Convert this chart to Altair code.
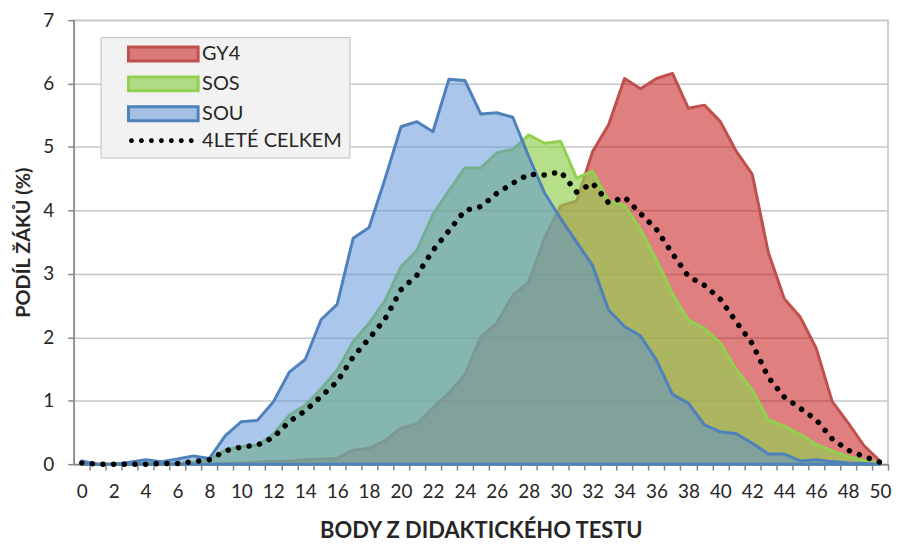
import math
import altair as alt
import pandas as pd

# ---- data ----
scores = list(range(51))
gy4 = [0, 0, 0, 0, 0, 0, 0, 0, 0,
       0.01, 0.02, 0.03, 0.04, 0.05, 0.07, 0.08, 0.09,
       0.22, 0.25, 0.37, 0.57, 0.63, 0.89, 1.12, 1.41, 2.01, 2.22, 2.66, 2.87,
       3.57, 4.07, 4.15, 4.93, 5.35, 6.08, 5.92, 6.08, 6.16, 5.61, 5.66, 5.40,
       4.93, 4.57, 3.34, 2.61, 2.32, 1.83, 0.99, 0.65, 0.29, 0.05]
sos = [0.01, 0, 0, 0, 0.01, 0.01, 0.01, 0.03, 0.07,
       0.22, 0.28, 0.30, 0.47, 0.77, 0.93, 1.19, 1.48, 1.93, 2.22, 2.58, 3.11,
       3.37, 3.94, 4.31, 4.67, 4.67, 4.91, 4.96, 5.19, 5.06, 5.09, 4.51, 4.62,
       4.15, 4.08, 3.70, 3.22, 2.69, 2.27, 2.14, 1.91, 1.49, 1.17, 0.70, 0.60,
       0.47, 0.31, 0.21, 0.12, 0.06, 0.01]
sou = [0.05, 0.0, 0.0, 0.03, 0.07, 0.04, 0.08, 0.13, 0.09, 0.45,
       0.67, 0.69, 0.98, 1.45, 1.65, 2.28, 2.52, 3.56, 3.73, 4.50, 5.32,
       5.40, 5.24, 6.07, 6.05, 5.52, 5.54, 5.47, 4.85, 4.27, 3.87, 3.50,
       3.13, 2.43, 2.17, 2.02, 1.64, 1.10, 0.96, 0.62, 0.51, 0.48, 0.33,
       0.16, 0.16, 0.05, 0.07, 0.04, 0.02, 0.01, 0.0]
total = [0.02, 0.0, 0.0, 0.0, 0.0, 0.01, 0.01, 0.04, 0.07,
         0.21, 0.27, 0.30, 0.42, 0.67, 0.84, 1.07, 1.30, 1.69, 1.98,
         2.29, 2.75, 2.98, 3.37, 3.68, 4.00, 4.06, 4.27, 4.43, 4.57,
         4.56, 4.61, 4.29, 4.43, 4.12, 4.21, 3.95, 3.70, 3.32, 2.96,
         2.82, 2.60, 2.24, 1.90, 1.37, 1.06, 0.88, 0.70, 0.40, 0.22,
         0.12, 0.03]

series_names = ["GY4", "SOS", "SOU", "4LETÉ CELKEM"]
y_ticks = list(range(8))

# ---- styles ----
fill_range = ["rgba(192,0,0,0.5)", "rgba(146,208,80,0.67)", "rgba(85,142,213,0.5)", "#000000"]
stroke_range = ["#c0504d", "#92d050", "#4f81bd", "rgba(0,0,0,0)"]

# legend symbol shapes (units of 7 px): wide swatch and a row of dots
swatch = "M-1,-1H9V1H-1Z"
def dot(cx, r=0.37):
    pts = [(cx + r * math.cos(math.radians(22.5 + 45 * k)), r * math.sin(math.radians(22.5 + 45 * k))) for k in range(8)]
    return "M" + "L".join(f"{x:.3f},{y:.3f}" for x, y in pts) + "Z"
dots_path = "".join(dot(-0.57 + 1.43 * k) for k in range(7))
shape_range = [swatch, swatch, swatch, dots_path]

rows = []
for name, vals in zip(series_names, [gy4, sos, sou, total]):
    for s, v in zip(scores, vals):
        rows.append({"body": s, "podil": v, "skupina": name})
df = pd.DataFrame(rows)

FONT = "Lato"
TXT = "#262626"

x_enc = alt.X("body:Q",
              scale=alt.Scale(domain=[-0.5, 50.5], nice=False, zero=False),
              axis=alt.Axis(values=scores, title="BODY Z DIDAKTICKÉHO TESTU",
                            labelExpr="datum.value % 2 == 0 ? datum.label : ''",
                            tickOffset=8.02, labelOffset=-8.02, labelFlush=False,
                            labelOverlap=False, grid=False, labelPadding=12,
                            titlePadding=20, titleFontSize=22))
y_enc = alt.Y("podil:Q", stack=None,
              scale=alt.Scale(domain=[0, 7], nice=False, zero=True),
              axis=alt.Axis(values=y_ticks, title="PODÍL ŽÁKŮ (%)", grid=True,
                            labelPadding=14, titlePadding=9, titleFontSize=20))

fill_scale = alt.Scale(domain=series_names, range=fill_range)
stroke_scale = alt.Scale(domain=series_names, range=stroke_range)
shape_scale = alt.Scale(domain=series_names, range=shape_range)

def legend():
    return alt.Legend(title=None,
                      labelExpr="datum.label + '\u00a0\u00a0\u00a0\u00a0\u00a0'")

base = alt.Chart(df)

def area_layer(name):
    return base.transform_filter(alt.datum.skupina == name).mark_area(
        opacity=1, fillOpacity=1, strokeWidth=3, strokeJoin="round"
    ).encode(
        x=x_enc, y=y_enc,
        fill=alt.Fill("skupina:N", scale=fill_scale, legend=legend()),
        stroke=alt.Stroke("skupina:N", scale=stroke_scale, legend=legend()),
    )

line_total = base.transform_filter(alt.datum.skupina == "4LETÉ CELKEM").mark_line(
    color="black", strokeWidth=5.5, strokeDash=[0.1, 10.6], strokeCap="round"
).encode(x=x_enc, y=y_enc)

legend_points = base.mark_point(opacity=0, filled=True).encode(
    x=x_enc, y=y_enc,
    shape=alt.Shape("skupina:N", scale=shape_scale, legend=legend()),
)

chart = alt.layer(
    area_layer("GY4"), area_layer("SOS"), area_layer("SOU"), line_total, legend_points
).properties(
    width=818, height=446,
    padding={"left": 66, "top": 11, "right": 4, "bottom": 80},
    autosize=alt.AutoSizeParams(type="none"),
).configure_view(
    stroke="#bfbfbf", strokeWidth=1.5
).configure_axis(
    domainColor="#868686", domainWidth=1.5, tickColor="#868686", tickWidth=1.5,
    tickSize=6, labelFont=FONT, labelFontSize=19, labelColor=TXT,
    titleFont=FONT, titleFontWeight="bold", titleColor=TXT,
    gridColor="#c8c8c8", gridWidth=1.5,
).configure_legend(
    orient="none", legendX=27, legendY=17, fillColor="#f2f2f2",
    strokeColor="#bfbfbf", padding=7, symbolSize=196, symbolStrokeWidth=3,
    symbolOpacity=1, labelFont=FONT, labelFontSize=20, labelColor=TXT,
    labelOffset=57, rowPadding=4, symbolOffset=18, labelLimit=300,
)

chart.save("out.html", embed_options={"renderer": "svg", "actions": False})
